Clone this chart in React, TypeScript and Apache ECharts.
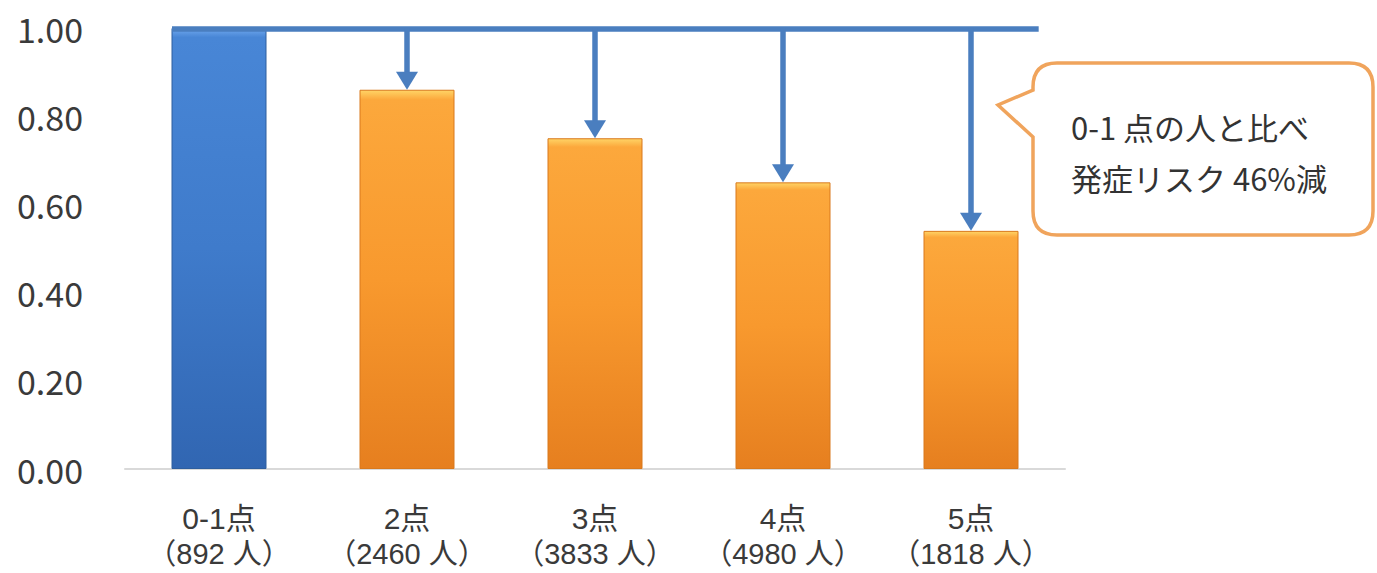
import React, { useEffect, useRef } from "react";
import * as echarts from "echarts";

const categories = ["0-1点", "2点", "3点", "4点", "5点"];
const counts = ["892", "2460", "3833", "4980", "1818"];
const riskValues = [1.0, 0.86, 0.75, 0.65, 0.54];
const yTicks = [0, 0.2, 0.4, 0.6, 0.8, 1.0];
const calloutLines = ["0-1 点の人と比べ", "発症リスク 46%減"];

const FONT = "'Noto Sans CJK JP', 'Noto Sans', sans-serif";
const XFONT = "'Liberation Sans', 'Noto Sans CJK JP', sans-serif";
const ARROW = "#4A7EBF";

echarts.graphic.registerShape(
  "callout",
  echarts.graphic.extendPath(
    "M1057 63 L1349 63 Q1373 63 1373 87 L1373 211 Q1373 235 1349 235 L1057 235 Q1033 235 1033 211 L1033 137 L998 105 L1033 90 L1033 87 Q1033 63 1057 63 Z",
    {}
  )
);

const blueFill = new echarts.graphic.LinearGradient(0, 0, 0, 1, [
  { offset: 0, color: "#6FA8EE" },
  { offset: 0.02, color: "#4886D6" },
  { offset: 0.5, color: "#3F7BCB" },
  { offset: 1, color: "#3166B2" },
]);
const orangeFill = new echarts.graphic.LinearGradient(0, 0, 0, 1, [
  { offset: 0, color: "#FFD466" },
  { offset: 0.025, color: "#FCA83C" },
  { offset: 0.5, color: "#F8992E" },
  { offset: 1, color: "#E67F1F" },
]);

export default function App() {
  const ref = useRef<HTMLDivElement>(null);
  useEffect(() => {
    if (!ref.current) return;
    const chart = echarts.init(ref.current, null, { renderer: "svg" });
    const base = yTicks[yTicks.length - 1];
    chart.setOption({
      animation: false,
      backgroundColor: "#ffffff",
      grid: { left: 125, width: 940, top: 28, bottom: 104 },
      xAxis: {
        type: "category",
        data: categories.map((c, i) => "{a|" + c + "}\n{b|（" + counts[i] + " 人）}"),
        axisLine: { show: true, lineStyle: { color: "#D9D9D9", width: 2 } },
        axisTick: { show: false },
        axisLabel: {
          interval: 0,
          margin: 31,
          fontSize: 29,
          color: "#3A3A3A",
          fontFamily: XFONT,
          rich: {
            a: { fontSize: 30, lineHeight: 36, fontFamily: XFONT, color: "#3A3A3A" },
            b: { fontSize: 29, lineHeight: 36, fontFamily: XFONT, color: "#3A3A3A" },
          },
        },
      },
      yAxis: {
        type: "value",
        min: 0,
        max: 1,
        interval: 0.2,
        splitLine: { show: false },
        axisLine: { show: false },
        axisTick: { show: false },
        axisLabel: {
          margin: 42,
          fontSize: 34,
          color: "#3A3A3A",
          fontFamily: FONT,
          formatter: (v: number) => v.toFixed(2),
        },
      },
      series: [
        {
          type: "bar",
          barWidth: 95,
          data: riskValues.map((v, i) => ({
            value: v,
            itemStyle: {
              color: i === 0 ? blueFill : orangeFill,
              borderColor: i === 0 ? "#2E5E9E" : "#D9791C",
              borderWidth: 1,
            },
          })),
        },
        {
          type: "custom",
          z: 5,
          clip: false,
          data: [[0, base, categories.length - 1]],
          renderItem: (params: any, api: any) => {
            const s = api.coord([api.value(0), api.value(1)]);
            const e = api.coord([api.value(2), api.value(1)]);
            const band = api.size([1, 0])[0];
            return {
              type: "line",
              shape: { x1: s[0] - 47, y1: s[1] + 1, x2: e[0] + band * 0.36, y2: e[1] + 1 },
              style: { stroke: ARROW, lineWidth: 5.5 },
            };
          },
        },
        {
          type: "custom",
          z: 5,
          clip: false,
          data: riskValues.slice(1).map((v, i) => [i + 1, v]),
          renderItem: (params: any, api: any) => {
            const idx = api.value(0);
            const top = api.coord([idx, base]);
            const bot = api.coord([idx, api.value(1)]);
            const headH = 18;
            const headW = 22;
            return {
              type: "group",
              children: [
                {
                  type: "line",
                  shape: { x1: top[0], y1: top[1], x2: bot[0], y2: bot[1] - headH + 2 },
                  style: { stroke: ARROW, lineWidth: 5.5 },
                },
                {
                  type: "polygon",
                  shape: {
                    points: [
                      [bot[0] - headW / 2, bot[1] - headH],
                      [bot[0] + headW / 2, bot[1] - headH],
                      [bot[0], bot[1]],
                    ],
                  },
                  style: { fill: ARROW },
                },
              ],
            };
          },
        },
      ],
      graphic: [
        {
          type: "callout",
          z: 10,
          shape: {},
          style: { fill: "#ffffff", stroke: "#F0A45C", lineWidth: 3.5 },
        },
        {
          type: "text",
          z: 11,
          x: 1071,
          y: 126,
          style: {
            text: calloutLines[0],
            fontSize: 31,
            fontFamily: FONT,
            fill: "#333333",
            verticalAlign: "middle",
            align: "left",
          },
        },
        {
          type: "text",
          z: 11,
          x: 1071,
          y: 177,
          style: {
            text: calloutLines[1],
            fontSize: 31,
            fontFamily: FONT,
            fill: "#333333",
            verticalAlign: "middle",
            align: "left",
          },
        },
      ],
    });
    return () => chart.dispose();
  }, []);
  return (
    <div
      ref={ref}
      style={{ position: "absolute", left: 0, top: 0, width: 1377, height: 573 }}
    />
  );
}
